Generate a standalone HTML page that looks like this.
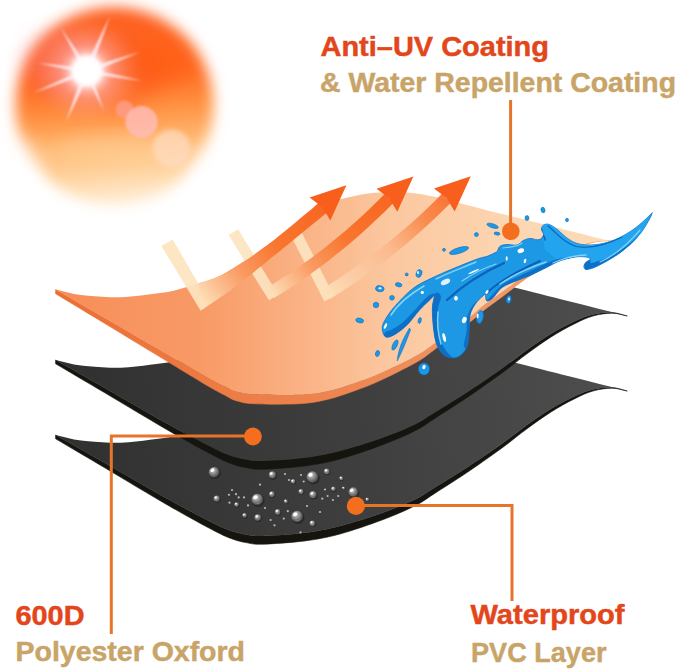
<!DOCTYPE html>
<html lang="en">
<head>
<meta charset="utf-8">
<title>Cover material layers</title>
<style>
  html, body { margin: 0; padding: 0; background: #ffffff; }
  body { width: 679px; height: 670px; overflow: hidden; position: relative; }
  svg { position: absolute; left: 0; top: 0; display: block; }
  text { font-family: "Liberation Sans", sans-serif; font-weight: bold; font-size: 27px; stroke-width: 0.45px; }
  .red { fill: #e2461a; stroke: #e2461a; }
  .tan { fill: #c9a468; stroke: #c9a468; }
</style>
</head>
<body>
<svg width="679" height="670" viewBox="0 0 679 670">
  <defs>
    <filter id="blur12" x="-30%" y="-30%" width="160%" height="160%"><feGaussianBlur stdDeviation="9"/></filter>
    <filter id="blur7" x="-30%" y="-30%" width="160%" height="160%"><feGaussianBlur stdDeviation="7"/></filter>
    <filter id="blur3" x="-30%" y="-30%" width="160%" height="160%"><feGaussianBlur stdDeviation="2.5"/></filter>
    <filter id="blur1" x="-30%" y="-30%" width="160%" height="160%"><feGaussianBlur stdDeviation="0.8"/></filter>
    <linearGradient id="sunG" x1="0.45" y1="0" x2="0.55" y2="1">
      <stop offset="0" stop-color="#fd6022"/>
      <stop offset="0.36" stop-color="#ff6a22"/>
      <stop offset="0.54" stop-color="#ff9444"/>
      <stop offset="0.7" stop-color="#ffb872"/>
      <stop offset="0.85" stop-color="#ffd6a4"/>
      <stop offset="1" stop-color="#fff0da"/>
    </linearGradient>
    <radialGradient id="flareG" cx="0.5" cy="0.5" r="0.5">
      <stop offset="0" stop-color="#ffffff" stop-opacity="1"/>
      <stop offset="0.3" stop-color="#ffffff" stop-opacity="0.95"/>
      <stop offset="0.5" stop-color="#ffd8d8" stop-opacity="0.6"/>
      <stop offset="0.75" stop-color="#ff9a90" stop-opacity="0.25"/>
      <stop offset="1" stop-color="#ff8070" stop-opacity="0"/>
    </radialGradient>
    <linearGradient id="orangeG" gradientUnits="userSpaceOnUse" x1="60" y1="0" x2="625" y2="0">
      <stop offset="0" stop-color="#f78e59"/>
      <stop offset="0.25" stop-color="#f89a66"/>
      <stop offset="0.42" stop-color="#fab183"/>
      <stop offset="0.58" stop-color="#fbc79f"/>
      <stop offset="0.8" stop-color="#fcd6b2"/>
      <stop offset="1" stop-color="#fcdcb8"/>
    </linearGradient>
    <linearGradient id="orangeEdgeG" gradientUnits="userSpaceOnUse" x1="60" y1="0" x2="625" y2="0">
      <stop offset="0" stop-color="#ea6f35"/>
      <stop offset="0.5" stop-color="#ee8550"/>
      <stop offset="1" stop-color="#f3a878"/>
    </linearGradient>
    <linearGradient id="darkG" gradientUnits="userSpaceOnUse" x1="60" y1="380" x2="620" y2="310">
      <stop offset="0" stop-color="#303030"/>
      <stop offset="0.5" stop-color="#3e3e3e"/>
      <stop offset="1" stop-color="#4e4e4e"/>
    </linearGradient>
    <radialGradient id="dropG" cx="0.4" cy="0.35" r="0.7">
      <stop offset="0" stop-color="#c8c8c8"/>
      <stop offset="0.45" stop-color="#8c8c8c"/>
      <stop offset="0.8" stop-color="#555555"/>
      <stop offset="1" stop-color="#3a3a3a"/>
    </radialGradient>
    <linearGradient id="arrG1" gradientUnits="userSpaceOnUse" x1="199.5" y1="297.0" x2="346.4" y2="185.2"><stop offset="0" stop-color="#fde0b8" stop-opacity="1"/><stop offset="0.1" stop-color="#fcc396" stop-opacity="1"/><stop offset="0.26" stop-color="#fa9a62" stop-opacity="1"/><stop offset="0.5" stop-color="#f8762f" stop-opacity="1"/><stop offset="1" stop-color="#f85e1c" stop-opacity="1"/></linearGradient>
    <linearGradient id="arrG2" gradientUnits="userSpaceOnUse" x1="270.7" y1="292.8" x2="413.4" y2="176.5"><stop offset="0" stop-color="#fde0b8" stop-opacity="1"/><stop offset="0.1" stop-color="#fcc396" stop-opacity="1"/><stop offset="0.26" stop-color="#fa9a62" stop-opacity="1"/><stop offset="0.5" stop-color="#f8762f" stop-opacity="1"/><stop offset="1" stop-color="#f85e1c" stop-opacity="1"/></linearGradient>
    <linearGradient id="arrG3" gradientUnits="userSpaceOnUse" x1="326.6" y1="293.7" x2="470.8" y2="176.2"><stop offset="0" stop-color="#fde0b8" stop-opacity="1"/><stop offset="0.15" stop-color="#fcd2ac" stop-opacity="0.8"/><stop offset="0.4" stop-color="#fbb88a" stop-opacity="0.75"/><stop offset="0.65" stop-color="#f98a4c" stop-opacity="0.95"/><stop offset="1" stop-color="#f85e1c" stop-opacity="1"/></linearGradient>
    <path id="face" d="M55.6,360.0 C61.1,361.3 66.5,362.9 72.0,364.0 C77.5,365.1 80.4,365.7 88.6,366.3 C96.8,366.9 110.8,368.1 121.0,367.8 C131.2,367.5 141.2,365.9 150.0,364.8 C158.8,363.7 165.5,363.0 173.6,361.2 C181.7,359.4 190.4,356.7 198.3,354.1 C206.2,351.5 213.0,349.6 220.7,345.9 C228.4,342.2 236.4,336.9 244.3,331.8 C252.2,326.7 259.9,321.2 267.8,315.3 C275.7,309.4 284.4,302.2 291.4,296.5 C298.4,290.8 303.6,285.1 310.0,281.1 C316.4,277.1 323.3,274.8 330.0,272.5 C336.7,270.2 342.5,269.1 350.0,267.5 C357.5,265.9 365.5,264.0 375.0,263.2 C384.5,262.4 396.8,262.2 407.0,262.9 C417.2,263.6 426.8,265.6 436.0,267.5 C445.2,269.4 452.3,271.7 462.0,274.2 C471.7,276.7 485.1,280.2 494.0,282.5 C502.9,284.8 502.6,284.5 515.3,287.7 C528.0,290.9 551.3,296.8 570.0,301.5 C588.7,306.2 608.2,311.2 627.3,316.0 C622.2,314.8 617.7,312.8 612.0,312.5 C606.3,312.2 599.3,313.0 593.0,314.5 C586.7,316.0 581.4,318.2 574.3,321.5 C567.2,324.8 558.6,329.2 550.7,334.0 C542.8,338.8 534.9,344.4 527.0,350.0 C519.1,355.6 513.1,360.7 503.6,367.5 C494.1,374.3 481.6,382.9 470.0,390.5 C458.4,398.1 443.2,407.3 434.0,413.0 C424.8,418.7 423.7,420.3 415.0,424.5 C406.3,428.7 394.5,433.6 382.0,438.0 C369.5,442.4 352.8,447.7 340.0,451.0 C327.2,454.3 318.0,456.1 305.0,457.8 C292.0,459.5 271.8,460.7 262.0,461.0 C252.2,461.3 250.8,460.3 246.0,459.5 C241.2,458.7 238.2,458.3 233.0,456.5 C227.8,454.7 225.6,454.3 215.0,449.0 C204.4,443.7 188.0,435.2 169.6,425.0 C151.2,414.8 123.8,398.8 104.8,388.0 C85.8,377.2 72.0,369.3 55.6,360.0 Z"/>
    <path id="oface" d="M55.6,360.0 C61.1,361.3 66.5,362.9 72.0,364.0 C77.5,365.1 80.4,365.7 88.6,366.3 C96.8,366.9 110.8,368.1 121.0,367.8 C131.2,367.5 141.2,365.9 150.0,364.8 C158.8,363.7 165.5,363.0 173.6,361.2 C181.7,359.4 190.4,356.7 198.3,354.1 C206.2,351.5 213.0,349.6 220.7,345.9 C228.4,342.2 236.4,336.9 244.3,331.8 C252.2,326.7 259.9,321.2 267.8,315.3 C275.7,309.4 284.4,302.2 291.4,296.5 C298.4,290.8 303.6,285.1 310.0,281.1 C316.4,277.1 323.3,274.8 330.0,272.5 C336.7,270.2 342.5,269.1 350.0,267.5 C357.5,265.9 365.5,264.0 375.0,263.2 C384.5,262.4 396.8,262.2 407.0,262.9 C417.2,263.6 426.8,265.6 436.0,267.5 C445.2,269.4 452.3,271.7 462.0,274.2 C471.7,276.7 485.1,280.2 494.0,282.5 C502.9,284.8 502.6,284.5 515.3,287.7 C528.0,290.9 551.3,296.8 570.0,301.5 C588.7,306.2 608.2,311.2 627.3,316.0 C622.2,314.5 617.7,312.1 612.0,311.5 C606.3,310.9 599.3,311.3 593.0,312.5 C586.7,313.7 581.4,315.7 574.3,318.5 C567.2,321.3 558.6,325.2 550.7,329.5 C542.8,333.8 534.9,338.7 527.0,344.0 C519.1,349.3 510.9,356.1 503.6,361.5 C496.3,366.9 488.6,372.2 483.0,376.5 C477.4,380.8 478.2,381.2 470.0,387.5 C461.8,393.8 443.2,407.9 434.0,414.5 C424.8,421.1 424.0,422.1 415.0,427.0 C406.0,431.9 389.7,439.8 380.0,444.1 C370.3,448.4 365.5,450.0 356.7,452.9 C347.9,455.8 337.1,459.6 327.3,461.7 C317.5,463.8 310.1,464.8 297.8,465.3 C285.5,465.8 263.6,465.2 253.6,464.7 C243.6,464.2 241.9,463.4 238.0,462.6 C234.1,461.8 232.5,460.8 230.5,460.0 C228.5,459.2 229.6,459.5 226.0,457.6 C222.4,455.7 218.3,454.2 208.9,448.9 C199.5,443.6 187.0,436.2 169.6,426.1 C152.2,416.0 123.8,399.5 104.8,388.5 C85.8,377.5 72.0,369.5 55.6,360.0 Z"/>
    <path id="rim" d="M627.3,316.0 C622.2,314.8 617.7,312.8 612.0,312.5 C606.3,312.2 599.3,313.0 593.0,314.5 C586.7,316.0 581.4,318.2 574.3,321.5 C567.2,324.8 558.6,329.2 550.7,334.0 C542.8,338.8 534.9,344.4 527.0,350.0 C519.1,355.6 513.1,360.7 503.6,367.5 C494.1,374.3 481.6,382.9 470.0,390.5 C458.4,398.1 443.2,407.3 434.0,413.0 C424.8,418.7 423.7,420.3 415.0,424.5 C406.3,428.7 394.5,433.6 382.0,438.0 C369.5,442.4 352.8,447.7 340.0,451.0 C327.2,454.3 318.0,456.1 305.0,457.8 C292.0,459.5 271.8,460.7 262.0,461.0 C252.2,461.3 250.8,460.3 246.0,459.5 C241.2,458.7 238.2,458.3 233.0,456.5 C227.8,454.7 225.6,454.3 215.0,449.0 C204.4,443.7 188.0,435.2 169.6,425.0 C151.2,414.8 123.8,398.8 104.8,388.0 C85.8,377.2 72.0,369.3 55.6,360.0 C55.6,361.3 55.6,362.5 55.6,363.8 C72.0,373.5 85.8,381.6 104.8,392.8 C123.8,404.1 151.2,420.7 169.6,431.2 C188.0,441.8 204.4,450.7 215.0,456.2 C225.6,461.7 227.8,462.3 233.0,464.2 C238.2,466.1 241.2,466.8 246.0,467.6 C250.8,468.4 252.2,469.5 262.0,469.2 C271.8,468.9 292.0,467.6 305.0,465.9 C318.0,464.2 327.2,462.5 340.0,459.0 C352.8,455.5 369.5,449.7 382.0,445.0 C394.5,440.3 406.3,435.2 415.0,430.8 C423.7,426.4 424.8,424.7 434.0,418.9 C443.2,413.0 458.4,403.4 470.0,395.5 C481.6,387.7 494.1,378.7 503.6,371.8 C513.1,364.8 519.1,359.5 527.0,353.8 C534.9,348.0 542.8,342.2 550.7,337.2 C558.6,332.2 567.2,327.4 574.3,323.9 C581.4,320.3 586.7,317.8 593.0,316.0 C599.3,314.2 606.3,313.2 612.0,313.2 C617.7,313.2 622.2,315.1 627.3,316.0 Z"/>
    <path id="orim" d="M627.3,316.0 C622.2,314.5 617.7,312.1 612.0,311.5 C606.3,310.9 599.3,311.3 593.0,312.5 C586.7,313.7 581.4,315.7 574.3,318.5 C567.2,321.3 558.6,325.2 550.7,329.5 C542.8,333.8 534.9,338.7 527.0,344.0 C519.1,349.3 510.9,356.1 503.6,361.5 C496.3,366.9 488.6,372.2 483.0,376.5 C477.4,380.8 478.2,381.2 470.0,387.5 C461.8,393.8 443.2,407.9 434.0,414.5 C424.8,421.1 424.0,422.1 415.0,427.0 C406.0,431.9 389.7,439.8 380.0,444.1 C370.3,448.4 365.5,450.0 356.7,452.9 C347.9,455.8 337.1,459.6 327.3,461.7 C317.5,463.8 310.1,464.8 297.8,465.3 C285.5,465.8 263.6,465.2 253.6,464.7 C243.6,464.2 241.9,463.4 238.0,462.6 C234.1,461.8 232.5,460.8 230.5,460.0 C228.5,459.2 229.6,459.5 226.0,457.6 C222.4,455.7 218.3,454.2 208.9,448.9 C199.5,443.6 187.0,436.2 169.6,426.1 C152.2,416.0 123.8,399.5 104.8,388.5 C85.8,377.5 72.0,369.5 55.6,360.0 C55.6,361.4 55.6,362.8 55.6,364.2 C72.0,374.1 85.8,382.5 104.8,394.0 C123.8,405.5 152.2,422.8 169.6,433.3 C187.0,443.8 199.5,451.6 208.9,457.1 C218.3,462.6 222.4,464.4 226.0,466.3 C229.6,468.3 228.5,468.0 230.5,468.9 C232.5,469.8 234.1,470.8 238.0,471.7 C241.9,472.6 243.6,473.7 253.6,474.2 C263.6,474.6 285.5,475.0 297.8,474.3 C310.1,473.6 317.5,472.3 327.3,470.0 C337.1,467.7 347.9,463.6 356.7,460.5 C365.5,457.3 370.3,455.6 380.0,451.1 C389.7,446.6 406.0,438.6 415.0,433.5 C424.0,428.4 424.8,427.3 434.0,420.5 C443.2,413.6 461.8,399.0 470.0,392.5 C478.2,386.0 477.4,385.8 483.0,381.4 C488.6,377.0 496.3,371.7 503.6,366.2 C510.9,360.7 519.1,353.9 527.0,348.5 C534.9,343.1 542.8,338.3 550.7,333.8 C558.6,329.2 567.2,324.6 574.3,321.1 C581.4,317.7 586.7,314.7 593.0,313.1 C599.3,311.4 606.3,311.0 612.0,311.5 C617.7,312.0 622.2,314.5 627.3,316.0 Z"/>
  </defs>

  <!-- SUN -->
  <g id="sun">
    <circle cx="114.5" cy="106" r="99" fill="url(#sunG)" filter="url(#blur7)"/>
    <ellipse cx="100" cy="72" rx="62" ry="40" fill="#fb5424" opacity="0.4" filter="url(#blur12)"/>
    <ellipse cx="160" cy="62" rx="30" ry="22" fill="#ff5a10" opacity="0.5" filter="url(#blur12)"/>
    <ellipse cx="110" cy="152" rx="62" ry="16" fill="#ffd29a" opacity="0.5" filter="url(#blur12)"/>
    <ellipse cx="24" cy="172" rx="20" ry="34" fill="#ffffff" opacity="0.4" filter="url(#blur12)"/>
    <ellipse cx="208" cy="178" rx="20" ry="32" fill="#ffffff" opacity="0.35" filter="url(#blur12)"/>
    <ellipse cx="58" cy="62" rx="36" ry="32" fill="#f4707a" opacity="0.3" filter="url(#blur12)"/>
    <circle cx="87" cy="71" r="42" fill="#ffc8c8" opacity="0.35" filter="url(#blur12)"/>
    <circle cx="124.5" cy="109.5" r="9" fill="#ff9e8a" opacity="0.8" filter="url(#blur1)"/>
    <circle cx="141.5" cy="122" r="16" fill="#ffbcb4" opacity="0.85" filter="url(#blur1)"/>
    <circle cx="171.5" cy="148.5" r="19" fill="#ffdcc0" opacity="0.75" filter="url(#blur3)"/>
    <circle cx="87" cy="71" r="38" fill="url(#flareG)"/>
    <g fill="#ffeaf0" opacity="0.9" filter="url(#blur1)">
      <polygon points="90.0,72.2 110,16 84.0,69.8"/>
      <polygon points="84.0,69.8 66,122 90.0,72.2"/>
      <polygon points="88.0,73.8 140,52 86.0,68.2"/>
      <polygon points="87.5,68.2 38,63 86.5,73.8"/>
      <polygon points="86.0,68.6 33,93 88.0,73.4"/>
      <polygon points="89.4,69.6 61,28 84.6,72.4"/>
      <polygon points="84.4,72.1 104,111 89.6,69.9"/>
      <polygon points="86.6,73.4 143,81 87.4,68.6"/>
    </g>
    <circle cx="87" cy="71" r="15" fill="#ffffff" filter="url(#blur3)"/>
  </g>

  <!-- BOTTOM DARK SHEET (PVC) -->
  <g id="sheet3" transform="translate(0,75)">
    <use href="#rim" fill="#15140f" stroke="#15140f" stroke-width="0.6"/>
    <use href="#face" fill="url(#darkG)"/>
  </g>

  <!-- MIDDLE DARK SHEET (Oxford) -->
  <g id="sheet2">
    <use href="#rim" fill="#15140f" stroke="#15140f" stroke-width="0.6"/>
    <use href="#face" fill="url(#darkG)"/>
  </g>

  <!-- water beads on PVC -->
  <g id="beads">
    <g transform="translate(214.1,472.2) scale(1.060)"><ellipse cx="0.8" cy="1" rx="5.6" ry="5.4" fill="#1c1c1c" opacity="0.55"/><circle r="5" fill="url(#dropG)"/><ellipse cx="-1.6" cy="-1.9" rx="2" ry="1.5" fill="#ffffff" transform="rotate(-35 -1.6 -1.9)"/><path d="M-2.5,3.2 A4.2,4.2 0 0 0 3.6,1.2 A5,5 0 0 1 -2.5,3.2 Z" fill="#d8d8d8" opacity="0.7"/></g>
    <g transform="translate(216.7,498.7) scale(0.640)"><ellipse cx="0.8" cy="1" rx="5.6" ry="5.4" fill="#1c1c1c" opacity="0.55"/><circle r="5" fill="url(#dropG)"/><ellipse cx="-1.6" cy="-1.9" rx="2" ry="1.5" fill="#ffffff" transform="rotate(-35 -1.6 -1.9)"/><path d="M-2.5,3.2 A4.2,4.2 0 0 0 3.6,1.2 A5,5 0 0 1 -2.5,3.2 Z" fill="#d8d8d8" opacity="0.7"/></g>
    <g transform="translate(257.3,499.5) scale(1.160)"><ellipse cx="0.8" cy="1" rx="5.6" ry="5.4" fill="#1c1c1c" opacity="0.55"/><circle r="5" fill="url(#dropG)"/><ellipse cx="-1.6" cy="-1.9" rx="2" ry="1.5" fill="#ffffff" transform="rotate(-35 -1.6 -1.9)"/><path d="M-2.5,3.2 A4.2,4.2 0 0 0 3.6,1.2 A5,5 0 0 1 -2.5,3.2 Z" fill="#d8d8d8" opacity="0.7"/></g>
    <g transform="translate(272.4,474.9) scale(0.740)"><ellipse cx="0.8" cy="1" rx="5.6" ry="5.4" fill="#1c1c1c" opacity="0.55"/><circle r="5" fill="url(#dropG)"/><ellipse cx="-1.6" cy="-1.9" rx="2" ry="1.5" fill="#ffffff" transform="rotate(-35 -1.6 -1.9)"/><path d="M-2.5,3.2 A4.2,4.2 0 0 0 3.6,1.2 A5,5 0 0 1 -2.5,3.2 Z" fill="#d8d8d8" opacity="0.7"/></g>
    <g transform="translate(271.9,494.2) scale(0.580)"><ellipse cx="0.8" cy="1" rx="5.6" ry="5.4" fill="#1c1c1c" opacity="0.55"/><circle r="5" fill="url(#dropG)"/><ellipse cx="-1.6" cy="-1.9" rx="2" ry="1.5" fill="#ffffff" transform="rotate(-35 -1.6 -1.9)"/><path d="M-2.5,3.2 A4.2,4.2 0 0 0 3.6,1.2 A5,5 0 0 1 -2.5,3.2 Z" fill="#d8d8d8" opacity="0.7"/></g>
    <g transform="translate(236.6,504.6) scale(0.480)"><ellipse cx="0.8" cy="1" rx="5.6" ry="5.4" fill="#1c1c1c" opacity="0.55"/><circle r="5" fill="url(#dropG)"/><ellipse cx="-1.6" cy="-1.9" rx="2" ry="1.5" fill="#ffffff" transform="rotate(-35 -1.6 -1.9)"/><path d="M-2.5,3.2 A4.2,4.2 0 0 0 3.6,1.2 A5,5 0 0 1 -2.5,3.2 Z" fill="#d8d8d8" opacity="0.7"/></g>
    <g transform="translate(244.6,515.4) scale(0.480)"><ellipse cx="0.8" cy="1" rx="5.6" ry="5.4" fill="#1c1c1c" opacity="0.55"/><circle r="5" fill="url(#dropG)"/><ellipse cx="-1.6" cy="-1.9" rx="2" ry="1.5" fill="#ffffff" transform="rotate(-35 -1.6 -1.9)"/><path d="M-2.5,3.2 A4.2,4.2 0 0 0 3.6,1.2 A5,5 0 0 1 -2.5,3.2 Z" fill="#d8d8d8" opacity="0.7"/></g>
    <g transform="translate(257.8,517.6) scale(0.680)"><ellipse cx="0.8" cy="1" rx="5.6" ry="5.4" fill="#1c1c1c" opacity="0.55"/><circle r="5" fill="url(#dropG)"/><ellipse cx="-1.6" cy="-1.9" rx="2" ry="1.5" fill="#ffffff" transform="rotate(-35 -1.6 -1.9)"/><path d="M-2.5,3.2 A4.2,4.2 0 0 0 3.6,1.2 A5,5 0 0 1 -2.5,3.2 Z" fill="#d8d8d8" opacity="0.7"/></g>
    <g transform="translate(277.7,512) scale(0.580)"><ellipse cx="0.8" cy="1" rx="5.6" ry="5.4" fill="#1c1c1c" opacity="0.55"/><circle r="5" fill="url(#dropG)"/><ellipse cx="-1.6" cy="-1.9" rx="2" ry="1.5" fill="#ffffff" transform="rotate(-35 -1.6 -1.9)"/><path d="M-2.5,3.2 A4.2,4.2 0 0 0 3.6,1.2 A5,5 0 0 1 -2.5,3.2 Z" fill="#d8d8d8" opacity="0.7"/></g>
    <g transform="translate(285.9,501.4) scale(0.420)"><ellipse cx="0.8" cy="1" rx="5.6" ry="5.4" fill="#1c1c1c" opacity="0.55"/><circle r="5" fill="url(#dropG)"/><ellipse cx="-1.6" cy="-1.9" rx="2" ry="1.5" fill="#ffffff" transform="rotate(-35 -1.6 -1.9)"/><path d="M-2.5,3.2 A4.2,4.2 0 0 0 3.6,1.2 A5,5 0 0 1 -2.5,3.2 Z" fill="#d8d8d8" opacity="0.7"/></g>
    <g transform="translate(297.1,516.5) scale(1.160)"><ellipse cx="0.8" cy="1" rx="5.6" ry="5.4" fill="#1c1c1c" opacity="0.55"/><circle r="5" fill="url(#dropG)"/><ellipse cx="-1.6" cy="-1.9" rx="2" ry="1.5" fill="#ffffff" transform="rotate(-35 -1.6 -1.9)"/><path d="M-2.5,3.2 A4.2,4.2 0 0 0 3.6,1.2 A5,5 0 0 1 -2.5,3.2 Z" fill="#d8d8d8" opacity="0.7"/></g>
    <g transform="translate(312.4,523.4) scale(0.580)"><ellipse cx="0.8" cy="1" rx="5.6" ry="5.4" fill="#1c1c1c" opacity="0.55"/><circle r="5" fill="url(#dropG)"/><ellipse cx="-1.6" cy="-1.9" rx="2" ry="1.5" fill="#ffffff" transform="rotate(-35 -1.6 -1.9)"/><path d="M-2.5,3.2 A4.2,4.2 0 0 0 3.6,1.2 A5,5 0 0 1 -2.5,3.2 Z" fill="#d8d8d8" opacity="0.7"/></g>
    <g transform="translate(313,494.8) scale(0.740)"><ellipse cx="0.8" cy="1" rx="5.6" ry="5.4" fill="#1c1c1c" opacity="0.55"/><circle r="5" fill="url(#dropG)"/><ellipse cx="-1.6" cy="-1.9" rx="2" ry="1.5" fill="#ffffff" transform="rotate(-35 -1.6 -1.9)"/><path d="M-2.5,3.2 A4.2,4.2 0 0 0 3.6,1.2 A5,5 0 0 1 -2.5,3.2 Z" fill="#d8d8d8" opacity="0.7"/></g>
    <g transform="translate(301,491.6) scale(0.520)"><ellipse cx="0.8" cy="1" rx="5.6" ry="5.4" fill="#1c1c1c" opacity="0.55"/><circle r="5" fill="url(#dropG)"/><ellipse cx="-1.6" cy="-1.9" rx="2" ry="1.5" fill="#ffffff" transform="rotate(-35 -1.6 -1.9)"/><path d="M-2.5,3.2 A4.2,4.2 0 0 0 3.6,1.2 A5,5 0 0 1 -2.5,3.2 Z" fill="#d8d8d8" opacity="0.7"/></g>
    <g transform="translate(312.4,477) scale(1.160)"><ellipse cx="0.8" cy="1" rx="5.6" ry="5.4" fill="#1c1c1c" opacity="0.55"/><circle r="5" fill="url(#dropG)"/><ellipse cx="-1.6" cy="-1.9" rx="2" ry="1.5" fill="#ffffff" transform="rotate(-35 -1.6 -1.9)"/><path d="M-2.5,3.2 A4.2,4.2 0 0 0 3.6,1.2 A5,5 0 0 1 -2.5,3.2 Z" fill="#d8d8d8" opacity="0.7"/></g>
    <g transform="translate(293.1,481.5) scale(0.480)"><ellipse cx="0.8" cy="1" rx="5.6" ry="5.4" fill="#1c1c1c" opacity="0.55"/><circle r="5" fill="url(#dropG)"/><ellipse cx="-1.6" cy="-1.9" rx="2" ry="1.5" fill="#ffffff" transform="rotate(-35 -1.6 -1.9)"/><path d="M-2.5,3.2 A4.2,4.2 0 0 0 3.6,1.2 A5,5 0 0 1 -2.5,3.2 Z" fill="#d8d8d8" opacity="0.7"/></g>
    <g transform="translate(326.8,471.4) scale(0.580)"><ellipse cx="0.8" cy="1" rx="5.6" ry="5.4" fill="#1c1c1c" opacity="0.55"/><circle r="5" fill="url(#dropG)"/><ellipse cx="-1.6" cy="-1.9" rx="2" ry="1.5" fill="#ffffff" transform="rotate(-35 -1.6 -1.9)"/><path d="M-2.5,3.2 A4.2,4.2 0 0 0 3.6,1.2 A5,5 0 0 1 -2.5,3.2 Z" fill="#d8d8d8" opacity="0.7"/></g>
    <g transform="translate(341.3,478.3) scale(0.420)"><ellipse cx="0.8" cy="1" rx="5.6" ry="5.4" fill="#1c1c1c" opacity="0.55"/><circle r="5" fill="url(#dropG)"/><ellipse cx="-1.6" cy="-1.9" rx="2" ry="1.5" fill="#ffffff" transform="rotate(-35 -1.6 -1.9)"/><path d="M-2.5,3.2 A4.2,4.2 0 0 0 3.6,1.2 A5,5 0 0 1 -2.5,3.2 Z" fill="#d8d8d8" opacity="0.7"/></g>
    <g transform="translate(333.4,488.9) scale(0.480)"><ellipse cx="0.8" cy="1" rx="5.6" ry="5.4" fill="#1c1c1c" opacity="0.55"/><circle r="5" fill="url(#dropG)"/><ellipse cx="-1.6" cy="-1.9" rx="2" ry="1.5" fill="#ffffff" transform="rotate(-35 -1.6 -1.9)"/><path d="M-2.5,3.2 A4.2,4.2 0 0 0 3.6,1.2 A5,5 0 0 1 -2.5,3.2 Z" fill="#d8d8d8" opacity="0.7"/></g>
    <g transform="translate(343.5,488.1) scale(0.320)"><ellipse cx="0.8" cy="1" rx="5.6" ry="5.4" fill="#1c1c1c" opacity="0.55"/><circle r="5" fill="url(#dropG)"/><ellipse cx="-1.6" cy="-1.9" rx="2" ry="1.5" fill="#ffffff" transform="rotate(-35 -1.6 -1.9)"/><path d="M-2.5,3.2 A4.2,4.2 0 0 0 3.6,1.2 A5,5 0 0 1 -2.5,3.2 Z" fill="#d8d8d8" opacity="0.7"/></g>
    <g transform="translate(353.3,492.1) scale(0.960)"><ellipse cx="0.8" cy="1" rx="5.6" ry="5.4" fill="#1c1c1c" opacity="0.55"/><circle r="5" fill="url(#dropG)"/><ellipse cx="-1.6" cy="-1.9" rx="2" ry="1.5" fill="#ffffff" transform="rotate(-35 -1.6 -1.9)"/><path d="M-2.5,3.2 A4.2,4.2 0 0 0 3.6,1.2 A5,5 0 0 1 -2.5,3.2 Z" fill="#d8d8d8" opacity="0.7"/></g>
    <g transform="translate(367.3,499.5) scale(0.380)"><ellipse cx="0.8" cy="1" rx="5.6" ry="5.4" fill="#1c1c1c" opacity="0.55"/><circle r="5" fill="url(#dropG)"/><ellipse cx="-1.6" cy="-1.9" rx="2" ry="1.5" fill="#ffffff" transform="rotate(-35 -1.6 -1.9)"/><path d="M-2.5,3.2 A4.2,4.2 0 0 0 3.6,1.2 A5,5 0 0 1 -2.5,3.2 Z" fill="#d8d8d8" opacity="0.7"/></g>
    <circle cx="229" cy="494.8" r="1.1" fill="#b8b8b8"/>
    <circle cx="232" cy="490" r="1.1" fill="#b8b8b8"/>
    <circle cx="236" cy="494.2" r="1.1" fill="#b8b8b8"/>
    <circle cx="238.7" cy="497.4" r="1.1" fill="#b8b8b8"/>
    <circle cx="229.5" cy="502.7" r="1.1" fill="#b8b8b8"/>
    <circle cx="244" cy="497.4" r="1.1" fill="#b8b8b8"/>
    <circle cx="248" cy="505.4" r="1.1" fill="#b8b8b8"/>
    <circle cx="285" cy="474" r="1.1" fill="#b8b8b8"/>
    <circle cx="289" cy="480" r="1.1" fill="#b8b8b8"/>
    <circle cx="301" cy="475" r="1.1" fill="#b8b8b8"/>
    <circle cx="303.7" cy="481.5" r="1.1" fill="#b8b8b8"/>
    <circle cx="325" cy="489.5" r="1.1" fill="#b8b8b8"/>
    <circle cx="327.6" cy="496" r="1.1" fill="#b8b8b8"/>
    <circle cx="332.9" cy="500" r="1.1" fill="#b8b8b8"/>
    <circle cx="322.3" cy="498.7" r="1.1" fill="#b8b8b8"/>
    <circle cx="338.2" cy="496" r="1.1" fill="#b8b8b8"/>
    <circle cx="270.6" cy="520" r="1.1" fill="#b8b8b8"/>
    <circle cx="274.5" cy="525.3" r="1.1" fill="#b8b8b8"/>
    <circle cx="283.8" cy="518.6" r="1.1" fill="#b8b8b8"/>
    <circle cx="287.8" cy="511.2" r="1.1" fill="#b8b8b8"/>
    <circle cx="300.5" cy="532.4" r="1.1" fill="#b8b8b8"/>
    <circle cx="260" cy="484.7" r="1.1" fill="#b8b8b8"/>
    <circle cx="265" cy="508" r="1.1" fill="#b8b8b8"/>
    <circle cx="307" cy="506" r="1.1" fill="#b8b8b8"/>
    <circle cx="320" cy="512" r="1.1" fill="#b8b8b8"/>
  </g>

  <!-- TOP ORANGE SHEET -->
  <g id="sheet1" transform="translate(0,-70.5)">
    <use href="#orim" fill="url(#orangeEdgeG)" stroke="url(#orangeEdgeG)" stroke-width="0.6"/>
    <use href="#oface" fill="url(#orangeG)"/>
  </g>

  <!-- ARROWS -->
  <g id="arrows">
    <g fill="none" stroke="#fde4c0" stroke-width="11" stroke-linejoin="miter" stroke-miterlimit="10" opacity="0.92">
      <path d="M161.3,245.9 L172.7,239.4 L198.3,283.6 L215,290 L200.7,310.7 Z" fill="#fde4c0" stroke="none"/>
      <path d="M233.4,232.2 L270.7,292.8 L276.7,289.1"/>
      <path d="M297.0,235.5 L326.6,293.7 L332.6,290.0"/>
    </g>
    <path d="M198.3,283.6 C205.8,280.9 213.0,279.1 220.7,275.4 C228.4,271.7 236.4,266.4 244.3,261.3 C252.2,256.2 259.9,250.7 267.8,244.8 C275.7,238.9 284.4,231.7 291.4,226.0 C298.4,220.3 304.9,215.0 310.0,210.6 C315.1,206.2 318.0,203.2 322.0,199.5 C324.5,203.2 327.0,206.8 329.5,210.5 C319.7,218.5 309.9,226.4 300.0,234.5 C290.1,242.6 278.5,252.1 270.0,259.0 C261.5,265.9 255.7,270.7 249.0,276.0 C242.3,281.3 238.1,284.9 230.0,290.7 C221.9,296.5 210.5,304.0 200.7,310.7 C199.9,301.7 199.1,292.6 198.3,283.6 Z" fill="url(#arrG1)"/>
    <path d="M346.4,185.2 L309.6,197.5 L322.2,207.0 L330.3,220.5 Z" fill="#f85e1c"/>
    <path d="M267.4,287.5 L276.6,281.8 L285.6,275.9 L294.5,269.9 L303.3,263.7 L312.0,257.4 L320.5,250.9 L329.0,244.3 L337.3,237.6 L345.5,230.7 L353.6,223.6 L361.5,216.4 L369.4,209.1 L377.1,201.6 L384.7,193.9 L393.6,202.7 L385.9,210.5 L378.0,218.1 L370.0,225.6 L361.9,233.0 L353.6,240.2 L345.3,247.2 L336.8,254.1 L328.2,260.9 L319.4,267.4 L310.6,273.9 L301.6,280.2 L292.5,286.3 L283.3,292.3 L274.0,298.1 Z" fill="url(#arrG2)"/>
    <path d="M413.4,176.5 L376.6,188.8 L389.2,198.3 L397.3,211.8 Z" fill="#f85e1c"/>
    <path d="M323.3,288.4 L332.6,282.6 L341.7,276.6 L350.7,270.5 L359.6,264.3 L368.4,257.9 L377.1,251.3 L385.6,244.6 L394.0,237.8 L402.3,230.8 L410.5,223.7 L418.6,216.4 L426.6,209.0 L434.4,201.4 L442.1,193.6 L451.0,202.4 L443.2,210.3 L435.2,218.0 L427.0,225.6 L418.8,233.0 L410.5,240.3 L402.0,247.4 L393.4,254.4 L384.7,261.2 L375.8,267.9 L366.9,274.4 L357.8,280.8 L348.6,287.0 L339.3,293.1 L329.9,299.0 Z" fill="url(#arrG3)"/>
    <path d="M470.8,176.2 L434.0,188.5 L446.6,198.0 L454.7,211.5 Z" fill="#f85e1c"/>
  </g>

  <!-- WATER SPLASH -->
  <g id="water">
    <clipPath id="waveClip"><path d="M652.3,212.7 C647.9,216.9 643.9,221.3 639.0,225.2 C634.1,229.1 628.5,232.9 623.2,235.8 C617.9,238.7 612.6,240.9 607.3,242.4 C602.0,243.9 596.2,244.8 591.3,245.0 C586.4,245.2 582.0,244.8 578.0,243.7 C574.0,242.6 571.0,240.8 567.5,238.4 C564.0,236.0 560.0,231.5 556.9,229.2 C553.8,226.9 551.2,225.1 549.0,224.4 C546.8,223.7 544.9,224.2 543.6,225.0 C542.3,225.8 541.5,227.6 541.5,229.2 C541.5,230.8 543.7,232.9 543.6,234.5 C543.5,236.1 541.9,237.5 541.0,239.0 C539.7,239.3 538.8,239.9 537.0,239.8 C535.2,239.7 532.6,238.3 530.4,238.4 C528.2,238.5 525.9,239.2 523.7,240.3 C521.5,241.4 519.9,244.3 517.0,245.0 C514.1,245.7 509.4,244.3 506.5,244.5 C503.6,244.7 501.5,245.2 499.9,246.4 C498.3,247.6 498.1,249.9 497.2,251.7 C494.1,253.1 491.5,254.7 488.0,256.0 C484.5,257.3 481.9,257.3 476.0,259.5 C470.1,261.7 460.0,265.8 452.5,268.9 C445.0,272.0 438.0,275.0 431.3,278.3 C424.6,281.6 418.7,284.0 412.4,288.9 C406.1,293.8 398.4,302.1 393.6,307.8 C388.8,313.5 385.3,319.1 383.5,323.0 C381.7,326.9 382.1,328.9 382.6,331.3 C383.1,333.7 384.3,336.8 386.5,337.2 C388.7,337.6 392.5,335.9 396.0,333.7 C399.5,331.5 403.8,328.3 407.7,324.3 C411.6,320.3 416.0,313.9 419.5,310.0 C423.0,306.1 426.3,303.2 428.9,300.7 C431.5,298.2 432.8,296.8 434.8,294.8 C434.0,299.1 432.6,302.1 432.4,307.8 C432.2,313.5 432.8,322.7 433.6,329.0 C434.4,335.3 435.2,341.0 437.2,345.5 C439.2,350.0 442.1,354.0 445.4,356.0 C448.7,358.0 453.7,358.6 457.2,357.2 C460.7,355.8 464.6,352.1 466.6,347.8 C468.6,343.5 468.4,336.8 469.0,331.3 C469.6,325.8 468.9,319.5 470.1,314.8 C471.3,310.1 473.4,306.5 476.0,303.0 C478.6,299.5 482.3,296.7 485.5,293.6 C485.9,296.0 485.4,299.9 486.6,300.7 C487.8,301.5 489.9,300.5 492.5,298.3 C495.1,296.1 498.1,290.4 502.0,287.5 C505.9,284.6 511.3,283.0 516.0,281.0 C520.7,279.0 524.9,277.7 530.0,275.5 C535.1,273.3 541.4,270.0 546.3,267.6 C551.2,265.2 554.6,262.8 559.5,261.0 C564.4,259.2 571.0,257.7 575.4,257.0 C579.8,256.3 583.3,256.7 586.0,257.0 C588.7,257.3 589.5,258.3 591.3,258.9 C589.5,260.0 587.2,261.1 586.0,262.3 C584.8,263.5 583.9,265.1 583.9,266.3 C583.9,267.5 584.3,269.3 586.0,269.5 C587.7,269.7 590.9,268.8 594.0,267.6 C597.1,266.4 600.6,264.5 604.6,262.3 C608.6,260.1 613.5,257.4 617.9,254.3 C622.3,251.2 627.0,247.5 631.0,243.7 C635.0,239.9 638.6,236.0 641.7,231.8 C644.8,227.6 647.9,221.8 649.7,218.6 C651.5,215.4 651.4,214.7 652.3,212.7 Z"/></clipPath>
    <path d="M652.3,212.7 C647.9,216.9 643.9,221.3 639.0,225.2 C634.1,229.1 628.5,232.9 623.2,235.8 C617.9,238.7 612.6,240.9 607.3,242.4 C602.0,243.9 596.2,244.8 591.3,245.0 C586.4,245.2 582.0,244.8 578.0,243.7 C574.0,242.6 571.0,240.8 567.5,238.4 C564.0,236.0 560.0,231.5 556.9,229.2 C553.8,226.9 551.2,225.1 549.0,224.4 C546.8,223.7 544.9,224.2 543.6,225.0 C542.3,225.8 541.5,227.6 541.5,229.2 C541.5,230.8 543.7,232.9 543.6,234.5 C543.5,236.1 541.9,237.5 541.0,239.0 C539.7,239.3 538.8,239.9 537.0,239.8 C535.2,239.7 532.6,238.3 530.4,238.4 C528.2,238.5 525.9,239.2 523.7,240.3 C521.5,241.4 519.9,244.3 517.0,245.0 C514.1,245.7 509.4,244.3 506.5,244.5 C503.6,244.7 501.5,245.2 499.9,246.4 C498.3,247.6 498.1,249.9 497.2,251.7 C494.1,253.1 491.5,254.7 488.0,256.0 C484.5,257.3 481.9,257.3 476.0,259.5 C470.1,261.7 460.0,265.8 452.5,268.9 C445.0,272.0 438.0,275.0 431.3,278.3 C424.6,281.6 418.7,284.0 412.4,288.9 C406.1,293.8 398.4,302.1 393.6,307.8 C388.8,313.5 385.3,319.1 383.5,323.0 C381.7,326.9 382.1,328.9 382.6,331.3 C383.1,333.7 384.3,336.8 386.5,337.2 C388.7,337.6 392.5,335.9 396.0,333.7 C399.5,331.5 403.8,328.3 407.7,324.3 C411.6,320.3 416.0,313.9 419.5,310.0 C423.0,306.1 426.3,303.2 428.9,300.7 C431.5,298.2 432.8,296.8 434.8,294.8 C434.0,299.1 432.6,302.1 432.4,307.8 C432.2,313.5 432.8,322.7 433.6,329.0 C434.4,335.3 435.2,341.0 437.2,345.5 C439.2,350.0 442.1,354.0 445.4,356.0 C448.7,358.0 453.7,358.6 457.2,357.2 C460.7,355.8 464.6,352.1 466.6,347.8 C468.6,343.5 468.4,336.8 469.0,331.3 C469.6,325.8 468.9,319.5 470.1,314.8 C471.3,310.1 473.4,306.5 476.0,303.0 C478.6,299.5 482.3,296.7 485.5,293.6 C485.9,296.0 485.4,299.9 486.6,300.7 C487.8,301.5 489.9,300.5 492.5,298.3 C495.1,296.1 498.1,290.4 502.0,287.5 C505.9,284.6 511.3,283.0 516.0,281.0 C520.7,279.0 524.9,277.7 530.0,275.5 C535.1,273.3 541.4,270.0 546.3,267.6 C551.2,265.2 554.6,262.8 559.5,261.0 C564.4,259.2 571.0,257.7 575.4,257.0 C579.8,256.3 583.3,256.7 586.0,257.0 C588.7,257.3 589.5,258.3 591.3,258.9 C589.5,260.0 587.2,261.1 586.0,262.3 C584.8,263.5 583.9,265.1 583.9,266.3 C583.9,267.5 584.3,269.3 586.0,269.5 C587.7,269.7 590.9,268.8 594.0,267.6 C597.1,266.4 600.6,264.5 604.6,262.3 C608.6,260.1 613.5,257.4 617.9,254.3 C622.3,251.2 627.0,247.5 631.0,243.7 C635.0,239.9 638.6,236.0 641.7,231.8 C644.8,227.6 647.9,221.8 649.7,218.6 C651.5,215.4 651.4,214.7 652.3,212.7 Z" fill="#1c98e4" stroke="#0e6fc6" stroke-width="0.8"/>
    <g clip-path="url(#waveClip)">
      <!-- lighter tail -->
      <path d="M540,222 L655,205 L655,235 L600,275 L560,262 L545,250 Z" fill="#22a4ee"/>
      <!-- dark shadows -->
      <g fill="#0e6fc6">
        <path d="M436.0,293.0 C434.2,294.8 430.8,301.8 430.0,308.0 C429.2,314.2 430.2,323.5 431.0,330.0 C431.8,336.5 432.8,342.3 435.0,347.0 C437.2,351.7 440.7,355.8 444.0,358.0 C447.3,360.2 454.5,361.0 455.0,360.0 C455.5,359.0 449.3,355.2 447.0,352.0 C444.7,348.8 442.6,345.5 441.0,341.0 C439.4,336.5 438.0,330.5 437.5,325.0 C437.0,319.5 437.4,312.7 438.0,308.0 C438.6,303.3 441.3,299.5 441.0,297.0 C440.7,294.5 437.8,291.2 436.0,293.0 Z"/>
        <path d="M470.0,350.0 C471.3,347.7 471.5,337.7 472.0,332.0 C472.5,326.3 471.7,321.0 473.0,316.0 C474.3,311.0 479.8,304.0 480.0,302.0 C480.2,300.0 476.1,301.7 474.0,304.0 C471.9,306.3 468.8,311.3 467.5,316.0 C466.2,320.7 467.1,327.0 466.5,332.0 C465.9,337.0 463.4,343.0 464.0,346.0 C464.6,349.0 468.7,352.3 470.0,350.0 Z"/>
        <path d="M384.0,339.0 C385.8,339.6 391.8,338.2 396.0,336.0 C400.2,333.8 404.8,330.2 409.0,326.0 C413.2,321.8 417.3,315.3 421.0,311.0 C424.7,306.7 428.3,302.8 431.0,300.0 C433.7,297.2 437.0,294.9 437.0,294.0 C437.0,293.1 433.2,293.5 431.0,294.5 C428.8,295.5 427.0,297.1 424.0,300.0 C421.0,302.9 416.7,308.2 413.0,312.0 C409.3,315.8 405.5,320.1 402.0,323.0 C398.5,325.9 394.8,327.9 392.0,329.5 C389.2,331.1 386.3,330.9 385.0,332.5 C383.7,334.1 382.2,338.4 384.0,339.0 Z"/>
        <path d="M585.0,258.0 C584.0,258.8 583.7,261.8 584.0,264.0 C584.3,266.2 585.0,270.2 587.0,271.0 C589.0,271.8 592.7,270.3 596.0,269.0 C599.3,267.7 603.0,265.4 607.0,263.0 C611.0,260.6 615.7,257.8 620.0,254.5 C624.3,251.2 629.2,247.4 633.0,243.5 C636.8,239.6 639.8,236.1 643.0,231.0 C646.2,225.9 651.5,213.7 652.0,213.0 C652.5,212.3 648.7,222.8 646.0,227.0 C643.3,231.2 639.7,234.5 636.0,238.0 C632.3,241.5 628.3,244.9 624.0,248.0 C619.7,251.1 614.3,254.3 610.0,256.5 C605.7,258.7 601.2,259.9 598.0,261.0 C594.8,262.1 592.3,263.3 591.0,263.0 C589.7,262.7 591.0,260.3 590.0,259.5 C589.0,258.7 586.0,257.2 585.0,258.0 Z"/>
        <path d="M486.0,302.0 C486.2,303.0 491.0,302.1 494.0,300.0 C497.0,297.9 500.0,292.4 504.0,289.5 C508.0,286.6 513.3,284.8 518.0,282.5 C522.7,280.2 527.0,278.4 532.0,276.0 C537.0,273.6 543.0,270.4 548.0,268.0 C553.0,265.6 557.2,263.2 562.0,261.5 C566.8,259.8 577.0,258.6 577.0,258.0 C577.0,257.4 567.2,257.1 562.0,258.0 C556.8,258.9 551.3,261.3 546.0,263.5 C540.7,265.7 535.0,268.7 530.0,271.0 C525.0,273.3 520.5,275.3 516.0,277.5 C511.5,279.7 506.8,281.2 503.0,284.0 C499.2,286.8 495.8,291.0 493.0,294.0 C490.2,297.0 485.8,301.0 486.0,302.0 Z"/>
      </g>
      <g fill="none" stroke="#0c62b8" stroke-linecap="round">
        <path d="M447,300 C462,286 482,273 504,263" stroke-width="2.2"/>
        <path d="M487,293 C500,280 520,270 540,261" stroke-width="2"/>
        <path d="M541.5,229 C541,233 545,236 545,240" stroke-width="1.6"/>
        <path d="M548,226 C556,232 562,242 576,246.5 C590,249 606,245 622,237" stroke-width="1.2"/>
      </g>
      <!-- cyan highlights -->
      <g fill="none" stroke="#7fd2f8" stroke-linecap="round">
        <path d="M391,315 C398,304 410,294 424,286" stroke-width="1.6"/>
        <path d="M436,279 C448,273 462,268 476,262" stroke-width="1.4"/>
        <path d="M438,312 C437,322 438,334 441,344" stroke-width="1.5"/>
        <path d="M462,281 C472,274 484,268 496,264" stroke-width="1.3"/>
        <path d="M500,284 C512,276 528,268 546,262" stroke-width="1.5"/>
        <path d="M553,263 C562,259 574,255.5 586,255" stroke-width="1.3"/>
        <path d="M600,262 C614,256 628,244 640,230" stroke-width="1.2"/>
        <path d="M503,248 C510,247 517,247 522,243" stroke-width="1.2"/>
      </g>
    </g>
    <g fill="#ffffff">
      <ellipse cx="445.5" cy="281.8" rx="5" ry="2.6" transform="rotate(-25 445.5 281.8)" opacity="0.85"/>
      <ellipse cx="422.3" cy="292.4" rx="1.6" ry="1.6"/>
      <ellipse cx="456" cy="298.3" rx="1.8" ry="2.4"/>
      <ellipse cx="464.3" cy="320" rx="2.2" ry="3.2" transform="rotate(20 464.3 320)"/>
      <ellipse cx="444.2" cy="337.5" rx="1.5" ry="4.5" transform="rotate(-15 444.2 337.5)"/>
      <ellipse cx="385.5" cy="326" rx="1.2" ry="3" transform="rotate(25 385.5 326)"/>
      <ellipse cx="520.8" cy="250.7" rx="3.4" ry="2.3" transform="rotate(-20 520.8 250.7)"/>
      <ellipse cx="506.7" cy="258.5" rx="1" ry="2.2"/>
      <ellipse cx="525" cy="261" rx="1.2" ry="2.2" transform="rotate(15 525 261)"/>
      <ellipse cx="473.7" cy="271.5" rx="6" ry="0.9" transform="rotate(-25 473.7 271.5)"/>
      <ellipse cx="487" cy="292" rx="1.2" ry="2.2" transform="rotate(35 487 292)"/>
    </g>
    <!-- tendril -->
    <path d="M409.5,328 C405,336 399,345 397.2,360.8 C402,352 405.5,343 410.5,330 Z" fill="#1c98e4" stroke="#0e6fc6" stroke-width="0.6"/>
    <g fill="#1c98e4" stroke="#0e6fc6" stroke-width="0.6">
      <ellipse cx="424" cy="369" rx="5.5" ry="6" transform="rotate(0 424 369)"/>
      <ellipse cx="480" cy="317" rx="3.3" ry="6.5" transform="rotate(10 480 317)"/>
      <ellipse cx="508.8" cy="299.4" rx="2.3" ry="4" transform="rotate(10 508.8 299.4)"/>
      <ellipse cx="377.5" cy="353.5" rx="2" ry="3" transform="rotate(15 377.5 353.5)"/>
      <ellipse cx="359.7" cy="320.5" rx="4" ry="2.3" transform="rotate(15 359.7 320.5)"/>
      <ellipse cx="376" cy="305" rx="2.8" ry="2.8" transform="rotate(0 376 305)"/>
      <ellipse cx="379.8" cy="288.7" rx="4.3" ry="3" transform="rotate(10 379.8 288.7)"/>
      <ellipse cx="392" cy="297.8" rx="2.4" ry="2.4" transform="rotate(0 392 297.8)"/>
      <ellipse cx="398.6" cy="284.8" rx="3.3" ry="2" transform="rotate(15 398.6 284.8)"/>
      <ellipse cx="419" cy="273.5" rx="2.8" ry="4" transform="rotate(20 419 273.5)"/>
      <ellipse cx="406.7" cy="274.4" rx="1.5" ry="1.5" transform="rotate(0 406.7 274.4)"/>
      <ellipse cx="444" cy="249.8" rx="1.5" ry="1.5" transform="rotate(0 444 249.8)"/>
      <ellipse cx="459" cy="250.5" rx="10" ry="2.8" transform="rotate(-17 459 250.5)"/>
      <ellipse cx="476.4" cy="234.6" rx="2" ry="2" transform="rotate(0 476.4 234.6)"/>
      <ellipse cx="492.6" cy="225.8" rx="6" ry="2" transform="rotate(18 492.6 225.8)"/>
      <ellipse cx="497" cy="233.6" rx="3" ry="1.5" transform="rotate(10 497 233.6)"/>
      <ellipse cx="419.7" cy="320.5" rx="1.5" ry="3" transform="rotate(15 419.7 320.5)"/>
      <ellipse cx="527" cy="218" rx="2" ry="2.5" transform="rotate(0 527 218)"/>
      <ellipse cx="543" cy="210" rx="2" ry="2.8" transform="rotate(-15 543 210)"/>
      <ellipse cx="567" cy="220" rx="1.5" ry="1.8" transform="rotate(0 567 220)"/>
      <ellipse cx="395" cy="345" rx="2.2" ry="5.5" transform="rotate(25 395 345)"/>
    </g>
    <g fill="#ffffff">
      <ellipse cx="424" cy="367" rx="1.6" ry="2.2" transform="rotate(20 424 367)"/>
      <ellipse cx="477.6" cy="316" rx="1" ry="2.4"/>
      <ellipse cx="509" cy="299" rx="0.8" ry="1.6"/>
      <ellipse cx="380" cy="288.3" rx="1.6" ry="1"/>
      <ellipse cx="418" cy="272.5" rx="0.9" ry="1.6"/>
    </g>
  </g>

  <!-- CALLOUT LINES -->
  <g id="callouts" fill="none" stroke="#e6742a" stroke-width="3">
    <path d="M510.6,100 L510.6,226"/>
    <path d="M253,436 L111.3,436 L111.3,634"/>
    <path d="M356,505.6 L512,505.6 L512,601"/>
  </g>
  <g fill="#f36f1f">
    <circle cx="510.8" cy="231.3" r="8.8"/>
    <circle cx="252.9" cy="436.5" r="8.9"/>
    <circle cx="355.9" cy="505.9" r="9.1"/>
  </g>

  <!-- TEXT -->
  <text x="320.5" y="56" class="red" textLength="228.5" lengthAdjust="spacingAndGlyphs">Anti–UV Coating</text>
  <text x="320" y="92.3" class="tan" textLength="356" lengthAdjust="spacingAndGlyphs">&amp; Water Repellent Coating</text>
  <text x="15.5" y="624.6" class="red" textLength="69" lengthAdjust="spacingAndGlyphs">600D</text>
  <text x="15.5" y="661" class="tan" textLength="229.5" lengthAdjust="spacingAndGlyphs">Polyester Oxford</text>
  <text x="470.5" y="624.3" class="red" textLength="154" lengthAdjust="spacingAndGlyphs">Waterproof</text>
  <text x="471" y="662" class="tan" textLength="135.5" lengthAdjust="spacingAndGlyphs">PVC Layer</text>
</svg>
</body>
</html>
